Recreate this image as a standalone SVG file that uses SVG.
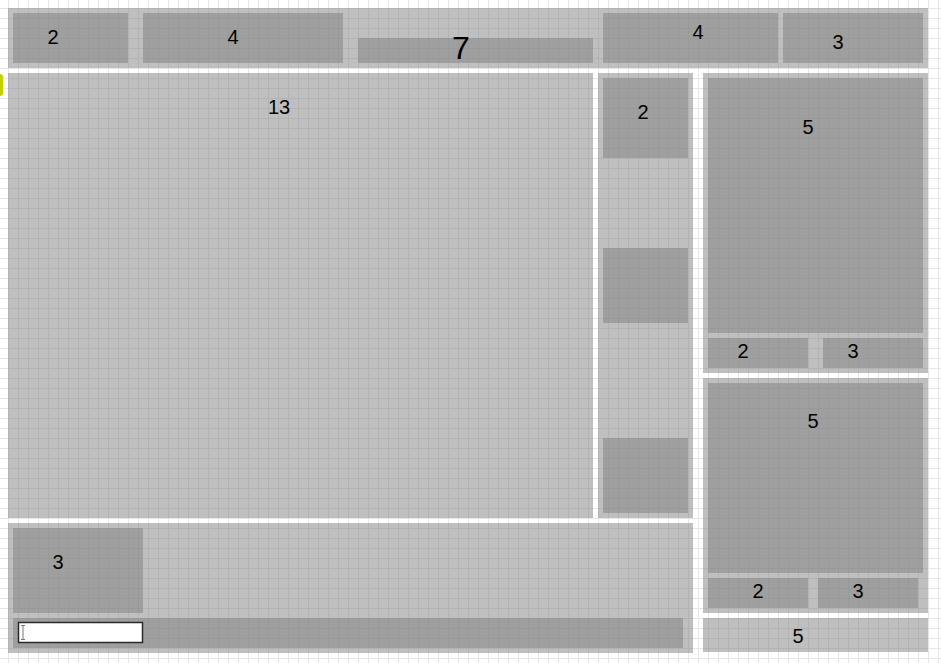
<svg xmlns="http://www.w3.org/2000/svg" width="941" height="663" viewBox="0 0 941 663">
<style>
.c{fill:#808080;fill-opacity:0.5}
.t{font-family:"Liberation Sans",Arial,sans-serif;font-size:20px;fill:#000;text-anchor:middle}
</style>
<defs>
<pattern id="grid" patternUnits="userSpaceOnUse" x="0" y="0" width="10" height="10">
<rect x="8" y="0" width="1" height="10" fill="#e6e6e6"/>
<rect x="0" y="8" width="10" height="1" fill="#e6e6e6"/>
</pattern>
</defs>
<rect width="941" height="663" fill="#fff"/>
<rect width="941" height="663" fill="url(#grid)"/>
<rect x="-10" y="74" width="13" height="22" rx="3" fill="#c4d000"/>
<g id="top">
<rect class="c" x="8" y="8" width="920" height="60"/>
<g id="top-2"><rect class="c" x="13" y="13" width="115" height="50"/><text class="t" x="53" y="44">2</text></g>
<g id="top-4a"><rect class="c" x="143" y="13" width="200" height="50"/><text class="t" x="233" y="44">4</text></g>
<g id="top-7"><rect class="c" x="358" y="38" width="235" height="25"/><text class="t" x="461" y="59" style="font-size:32px">7</text></g>
<g id="top-4b"><rect class="c" x="603" y="13" width="175" height="50"/><text class="t" x="698" y="39">4</text></g>
<g id="top-3"><rect class="c" x="783" y="13" width="140" height="50"/><text class="t" x="838" y="49">3</text></g>
</g>
<g id="main"><rect class="c" x="8" y="73" width="585" height="445"/><text class="t" x="279" y="114">13</text></g>
<g id="mid">
<rect class="c" x="598" y="73" width="95" height="445"/>
<g id="mid-1"><rect class="c" x="603" y="78" width="85" height="80"/><text class="t" x="643" y="119">2</text></g>
<g id="mid-2"><rect class="c" x="603" y="248" width="85" height="75"/></g>
<g id="mid-3"><rect class="c" x="603" y="438" width="85" height="75"/></g>
</g>
<g id="right1">
<rect class="c" x="703" y="73" width="225" height="300"/>
<g id="r1-5"><rect class="c" x="708" y="78" width="215" height="255"/><text class="t" x="808" y="134">5</text></g>
<g id="r1-2"><rect class="c" x="708" y="338" width="100" height="30"/><text class="t" x="743" y="358">2</text></g>
<g id="r1-3"><rect class="c" x="823" y="338" width="100" height="30"/><text class="t" x="853" y="358">3</text></g>
</g>
<g id="right2">
<rect class="c" x="703" y="378" width="225" height="235"/>
<g id="r2-5"><rect class="c" x="708" y="383" width="215" height="190"/><text class="t" x="813" y="428">5</text></g>
<g id="r2-2"><rect class="c" x="708" y="578" width="100" height="30"/><text class="t" x="758" y="598">2</text></g>
<g id="r2-3"><rect class="c" x="818" y="578" width="100" height="30"/><text class="t" x="858" y="598">3</text></g>
</g>
<g id="right3"><rect class="c" x="703" y="618" width="225" height="34"/><text class="t" x="798" y="643">5</text></g>
<g id="bottom">
<rect class="c" x="8" y="523" width="685" height="130"/>
<g id="b-3"><rect class="c" x="13" y="528" width="130" height="85"/><text class="t" x="58" y="569">3</text></g>
<g id="b-bar"><rect class="c" x="13" y="618" width="670" height="30"/>
<rect x="18.5" y="622.5" width="124" height="20" fill="#fff" stroke="#2a2a2a" stroke-width="1.5"/>
<path d="M21 625.5h4M23 625.5v14M21 639.5h4" stroke="#777" stroke-width="1" fill="none"/>
</g>
</g>
<g id="connectors"/>
</svg>
